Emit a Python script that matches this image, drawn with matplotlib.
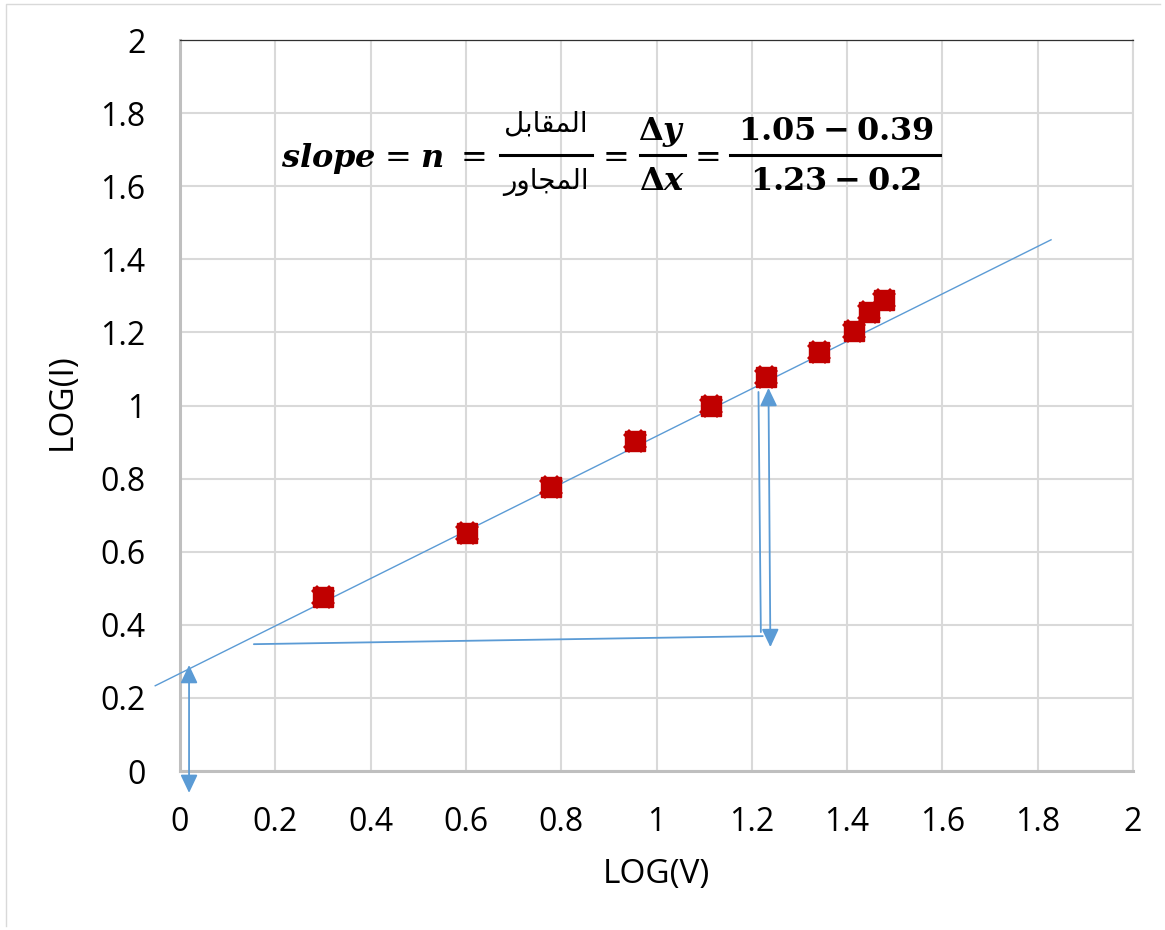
import matplotlib
matplotlib.use('Agg')
import matplotlib.pyplot as plt
from matplotlib.lines import Line2D

# Datos
log_v = [0.301, 0.602, 0.778, 0.954, 1.114, 1.230, 1.342, 1.415, 1.447, 1.477]
log_i = [0.477, 0.650, 0.778, 0.903, 1.000, 1.079, 1.146, 1.204, 1.255, 1.290]

# recta de ajuste (pendiente, ordenada) y su rango
fit_slope = 0.649
fit_intercept = 0.267
fit_range = [-0.052, 1.828]

ticks = [0, 0.2, 0.4, 0.6, 0.8, 1, 1.2, 1.4, 1.6, 1.8, 2]
tick_labels = ['0', '0.2', '0.4', '0.6', '0.8', '1', '1.2', '1.4', '1.6', '1.8', '2']

# flechas dibujadas a mano sobre el grafico (x0, y0, x1, y1, estilo)
arrows = [
    (0.019, 0.290, 0.019, -0.060, '<|-|>'),
    (0.155, 0.347, 1.223, 0.369, '-'),
    (1.214, 1.037, 1.219, 0.380, '-'),
    (1.235, 1.048, 1.239, 0.339, '<|-|>'),
]

# textos arabes en formas de presentacion (orden visual)
arabic_num = '\uFEDE\uFE91\uFE8E\uFED8\uFEE4\uFEDF\uFE8D'   # المقابل
arabic_den = '\uFEAD\uFEED\uFE8E\uFEA0\uFEE4\uFEDF\uFE8D'   # المجاور

W, H = 1165, 930
blue = '#5B9BD5'
red = '#C00000'

plt.rcParams['font.family'] = ['Open Sans', 'DejaVu Sans']
plt.rcParams['mathtext.fontset'] = 'custom'
plt.rcParams['mathtext.rm'] = 'DejaVu Serif:bold'
plt.rcParams['mathtext.bf'] = 'DejaVu Serif:bold'
plt.rcParams['mathtext.it'] = 'DejaVu Serif:italic:bold'

fig = plt.figure(figsize=(W / 100, H / 100), dpi=100)
ax = fig.add_axes([180 / W, 1 - 771 / H, (1133 - 180) / W, (771 - 40) / H])


def fx(px):
    return px / W


def fy(py):
    return 1 - py / H


# recta de ajuste
xs = fit_range
ys = [fit_intercept + fit_slope * v for v in xs]
ax.plot(xs, ys, color=blue, lw=1.0, clip_on=False, zorder=3)

# puntos
ax.plot(log_v, log_i, linestyle='none', marker='s', ms=14, color=red, zorder=4)
ax.plot(log_v, log_i, linestyle='none', marker='X', ms=17, color=red, mew=0, zorder=4)

# flechas
for x0, y0, x1, y1, st in arrows:
    if st == '-':
        ax.annotate('', xy=(x1, y1), xytext=(x0, y0), annotation_clip=False,
                    arrowprops=dict(arrowstyle='-', color=blue, lw=1.3,
                                    shrinkA=0, shrinkB=0), zorder=5)
    else:
        ax.annotate('', xy=(x1, y1), xytext=(x0, y0), annotation_clip=False,
                    arrowprops=dict(arrowstyle='<|-|>,head_length=0.55,head_width=0.26',
                                    mutation_scale=20, color=blue, lw=1.3,
                                    shrinkA=0, shrinkB=0), zorder=5)

ax.set_xlim(0, 2)
ax.set_ylim(0, 2)
ax.set_xticks(ticks)
ax.set_xticklabels(tick_labels)
ax.set_yticks(ticks)
ax.set_yticklabels(tick_labels)
ax.tick_params(axis='both', length=0, labelsize=23)
ax.tick_params(axis='y', pad=25)
ax.tick_params(axis='x', pad=25)
ax.grid(True, color='#D9D9D9', lw=1.5)
ax.set_axisbelow(True)

for s in ['left', 'bottom']:
    ax.spines[s].set_color('#BFBFBF')
    ax.spines[s].set_linewidth(2.2)
ax.spines['right'].set_color('#D9D9D9')
ax.spines['right'].set_linewidth(1.5)
ax.spines['top'].set_color('#303030')
ax.spines['top'].set_linewidth(0.9)

ax.set_xlabel('LOG(V)', fontsize=24)
ax.xaxis.set_label_coords(0.5, -0.142)
ax.xaxis.label.set_verticalalignment('center')
ax.set_ylabel('LOG(I)', fontsize=24)
ax.yaxis.set_label_coords(-0.124, 0.505)
ax.yaxis.label.set_verticalalignment('center')

# ecuacion de la pendiente
fs = 23
base = 167
fig.text(fx(328), fy(base), r'$slope$', fontsize=fs, ha='center', va='baseline')
fig.text(fx(398), fy(base), '=', fontsize=fs, family='DejaVu Serif', ha='center', va='baseline')
fig.text(fx(432), fy(base), r'$n$', fontsize=fs, ha='center', va='baseline')
fig.text(fx(474), fy(base), '=', fontsize=fs, family='DejaVu Serif', ha='center', va='baseline')

fig.text(fx(546), fy(132), arabic_num, fontsize=20, family=['DejaVu Sans'], ha='center', va='baseline')
fig.text(fx(546), fy(189), arabic_den, fontsize=20, family=['DejaVu Sans'], ha='center', va='baseline')
fig.add_artist(Line2D([fx(500), fx(592)], [fy(155), fy(155)], color='black', lw=2.2,
                      transform=fig.transFigure))

fig.text(fx(616), fy(base), '=', fontsize=fs, family='DejaVu Serif', ha='center', va='baseline')
fig.text(fx(662), fy(140), r'$\Delta y$', fontsize=fs, ha='center', va='baseline')
fig.text(fx(662), fy(190), r'$\Delta x$', fontsize=fs, ha='center', va='baseline')
fig.add_artist(Line2D([fx(640), fx(685)], [fy(155), fy(155)], color='black', lw=2.2,
                      transform=fig.transFigure))

fig.text(fx(708), fy(base), '=', fontsize=fs, family='DejaVu Serif', ha='center', va='baseline')
fig.text(fx(836), fy(140), r'$1.05-0.39$', fontsize=fs, ha='center', va='baseline')
fig.text(fx(836), fy(190), r'$1.23-0.2$', fontsize=fs, ha='center', va='baseline')
fig.add_artist(Line2D([fx(730), fx(940)], [fy(155), fy(155)], color='black', lw=2.2,
                      transform=fig.transFigure))

# marco exterior (solo izquierda y arriba visibles)
fig.add_artist(Line2D([fx(6), fx(6), fx(1160)], [fy(926), fy(4), fy(4)], color='#D9D9D9',
                      lw=1.0, transform=fig.transFigure))

fig.savefig('out.png', dpi=100)
